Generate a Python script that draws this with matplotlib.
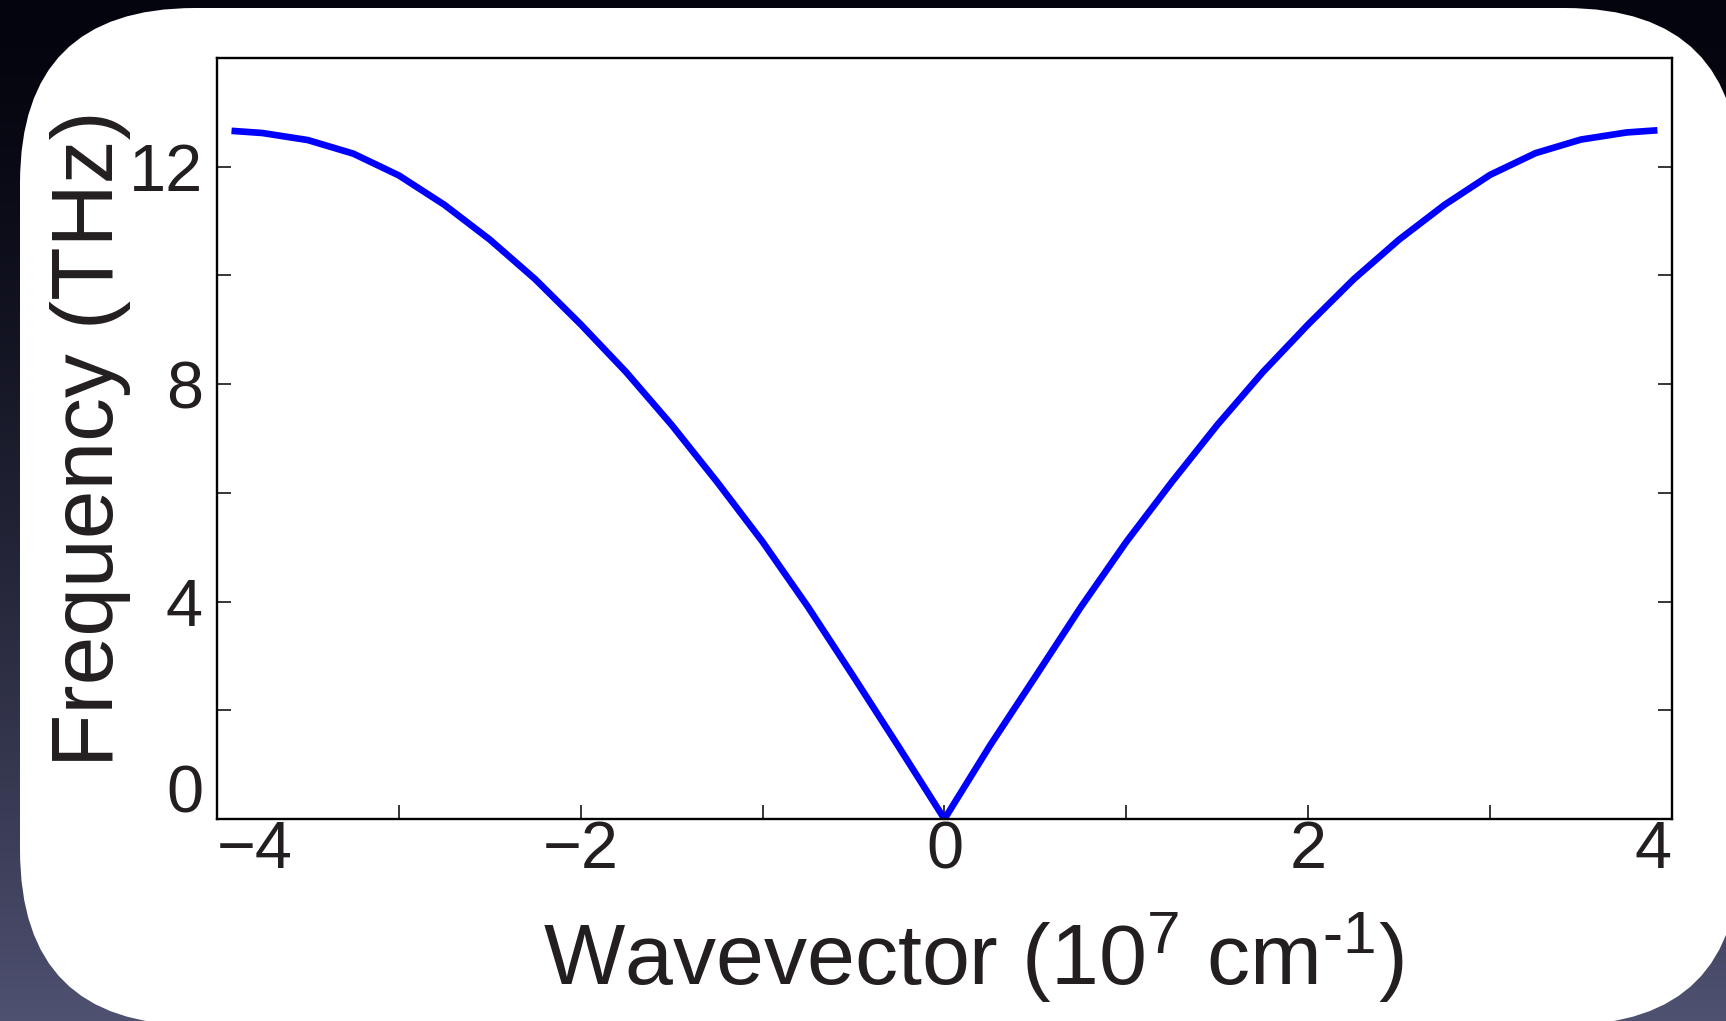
import numpy as np
import matplotlib
matplotlib.use("Agg")
import matplotlib.pyplot as plt
from matplotlib.patches import FancyBboxPatch
from matplotlib.transforms import ScaledTranslation

plt.rcParams['font.family'] = ['Liberation Sans', 'DejaVu Sans']
plt.rcParams['mathtext.fontset'] = 'custom'
plt.rcParams['mathtext.rm'] = 'Liberation Sans'
plt.rcParams['mathtext.default'] = 'regular'

# dispersion curve (10^7 cm^-1, THz)
wavevector = [-3.92, -3.75, -3.50, -3.25, -3.00, -2.75, -2.50, -2.25, -2.00, -1.75,
              -1.50, -1.25, -1.00, -0.75, -0.50, -0.25, 0.00,
              0.25, 0.50, 0.75, 1.00, 1.25, 1.50, 1.75, 2.00, 2.25,
              2.50, 2.75, 3.00, 3.25, 3.50, 3.75, 3.92]
frequency = [12.66, 12.62, 12.49, 12.24, 11.84, 11.30, 10.66, 9.93, 9.10, 8.22,
             7.25, 6.20, 5.10, 3.90, 2.62, 1.32, 0.00,
             1.35, 2.62, 3.90, 5.10, 6.20, 7.25, 8.22, 9.10, 9.93,
             10.66, 11.30, 11.85, 12.25, 12.50, 12.63, 12.67]

x_ticks = [-4, -3, -2, -1, 0, 1, 2, 3, 4]
x_ticklabels = ['\u22124', '', '\u22122', '', '0', '', '2', '', '4']
y_ticks = [0, 2, 4, 6, 8, 10, 12]
y_ticklabels = ['0', '', '4', '', '8', '', '12']

txt = '#231f20'

fig = plt.figure(figsize=(17.26, 10.21), dpi=100)

# slide background: dark gradient + white rounded card
bg = fig.add_axes([0, 0, 1, 1], zorder=-1)
bg.axis('off')
bg.set_xlim(0, 1726)
bg.set_ylim(1021, 0)
t = np.linspace(0, 1, 256)[:, None, None] ** 1.4
top_c = np.array([4, 4, 14]) / 255
bot_c = np.array([78, 81, 112]) / 255
grad = top_c + (bot_c - top_c) * t
bg.imshow(grad, extent=[0, 1726, 1021, 0], aspect='auto')
card = FancyBboxPatch((20, 8), 1720, 1017, boxstyle="round,pad=0,rounding_size=175",
                      fc='white', ec='none', clip_on=False)
bg.add_patch(card)

ax = fig.add_axes([0.1257, 0.1978, 0.843, 0.7454])
ax.plot(wavevector, frequency, color=(0, 0, 1), lw=4.8,
        solid_capstyle='butt', solid_joinstyle='round')

ax.set_xlim(-4, 4)
ax.set_ylim(0, 14)
ax.set_xticks(x_ticks)
ax.set_xticklabels(x_ticklabels)
ax.set_yticks(y_ticks)
ax.set_yticklabels(y_ticklabels)

for s in ax.spines.values():
    s.set_linewidth(1.7)
    s.set_color('black')

ax.tick_params(direction='in', length=10, width=1.1, colors='black',
               labelcolor=txt, labelsize=48, top=False, right=True)
ax.tick_params(axis='x', pad=1)
ax.tick_params(axis='y', pad=10)

ax.set_xlabel('Wavevector (10$^{7}$ cm$^{\u20101}$)', fontsize=62, color=txt, va='baseline')
ax.xaxis.set_label_coords(0.5196, -0.218)
ax.set_ylabel('Frequency (THz)', fontsize=63, color=txt, va='baseline')
ax.yaxis.set_label_coords(-0.0715, 0.5)

xl = ax.get_xticklabels()
xl[0].set_ha('left')
xl[-1].set_ha('right')
yl = ax.get_yticklabels()
yl[0].set_transform(yl[0].get_transform() + ScaledTranslation(0, 0.31, fig.dpi_scale_trans))

fig.savefig('out.png', dpi=100)
